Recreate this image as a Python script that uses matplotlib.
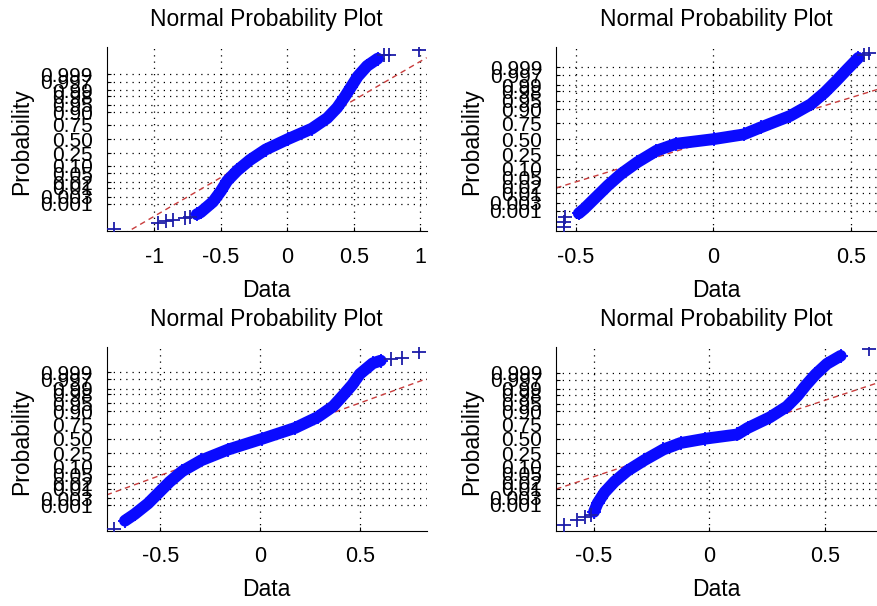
import numpy as np
import matplotlib.pyplot as plt
from matplotlib.ticker import MultipleLocator, FuncFormatter
from statistics import NormalDist

plt.rcParams['font.family'] = ['Liberation Sans', 'DejaVu Sans']
plt.rcParams['font.size'] = 15.5

# probability axis ticks (normal quantile scale)
prob_ticks = [0.001, 0.003, 0.01, 0.02, 0.05, 0.10, 0.25, 0.50,
              0.75, 0.90, 0.95, 0.98, 0.99, 0.997, 0.999]
prob_labels = ['0.001', '0.003', '0.01', '0.02', '0.05', '0.10', '0.25', '0.50',
               '0.75', '0.90', '0.95', '0.98', '0.99', '0.997', '0.999']

# panel 1 : sorted data vs normal quantile (dense part + sparse tail points)
p1_z = [-3.6, -3.5, -3.0, -2.5, -2.0, -1.5, -1.0, -0.5, 0.0, 0.5, 1.0, 1.5, 2.0, 2.5, 3.0, 3.5, 3.85]
p1_x = [-0.68, -0.65, -0.558, -0.50, -0.451, -0.375, -0.28, -0.162, 0.005, 0.185, 0.30, 0.375, 0.43, 0.48, 0.53, 0.60, 0.68]
p1_tail_z = [-4.30, -4.02, -3.92, -3.86, -3.78, -3.72, 4.0, 4.03, 4.27]
p1_tail_x = [-1.30, -0.97, -0.91, -0.86, -0.77, -0.73, 0.73, 0.765, 0.99]
p1_q = [-0.185, 0.179]   # 1st / 3rd quartile (reference line)
p1_zlim = 4.42

# panel 2
p2_z = [-3.2, -3.0, -2.5, -2.0, -1.5, -1.0, -0.5, -0.2, 0.0, 0.2, 0.5, 1.0, 1.5, 2.0, 2.5, 3.0, 3.5]
p2_x = [-0.49, -0.47, -0.427, -0.384, -0.336, -0.277, -0.207, -0.135, 0.002, 0.11, 0.172, 0.28, 0.355, 0.405, 0.447, 0.487, 0.528]
p2_tail_z = [-3.77, -3.55, -3.35, 3.62, 3.72]
p2_tail_x = [-0.545, -0.543, -0.54, 0.547, 0.568]
p2_q = [-0.178, 0.194]
p2_zlim = 3.98

# panel 3
p3_z = [-3.8, -3.5, -3.0, -2.5, -2.0, -1.5, -1.0, -0.5, 0.0, 0.5, 1.0, 1.5, 2.0, 2.5, 3.0, 3.5, 3.62]
p3_x = [-0.678, -0.63, -0.562, -0.508, -0.454, -0.39, -0.295, -0.16, 0.011, 0.175, 0.288, 0.366, 0.415, 0.462, 0.50, 0.565, 0.605]
p3_tail_z = [-4.19, 3.69, 3.76, 4.04]
p3_tail_x = [-0.732, 0.655, 0.713, 0.797]
p3_q = [-0.195, 0.207]
p3_zlim = 4.27

# panel 4
p4_z = [-3.41, -3.0, -2.5, -2.0, -1.5, -1.0, -0.5, -0.2, 0.0, 0.2, 0.5, 1.0, 1.5, 2.0, 2.5, 3.0, 3.5, 3.87]
p4_x = [-0.499, -0.483, -0.453, -0.41, -0.355, -0.281, -0.199, -0.125, -0.02, 0.12, 0.165, 0.261, 0.334, 0.38, 0.417, 0.458, 0.508, 0.567]
p4_tail_z = [-4.04, -3.77, -3.65, -3.57, 4.18]
p4_tail_x = [-0.63, -0.572, -0.536, -0.514, 0.691]
p4_q = [-0.193, 0.185]
p4_zlim = 4.30


def normplot(ax, z, x, tz, tx, q, zlim):
    xmin = min(min(x), min(tx))
    xmax = max(max(x), max(tx))
    pad = 0.025 * (xmax - xmin)
    xl = (xmin - pad, xmax + pad)

    # reference line through the quartiles, extended over the axis
    zq = NormalDist().inv_cdf(0.75)
    slope = 2 * zq / (q[1] - q[0])
    mid = (q[0] + q[1]) / 2
    rx = np.array(xl)
    ax.plot(rx, slope * (rx - mid), color='#c83c3c', lw=1, ls=(0, (4, 3)), zorder=2)

    ax.plot(x, z, color='#0a0aff', lw=8.5, solid_capstyle='round', zorder=3)
    ax.plot(x, z, ls='none', marker='+', ms=10, mew=1.3, color='#0a0aff', zorder=3)
    ax.plot(tx, tz, ls='none', marker='+', ms=10, mew=1.3, color='#1c1ca8', zorder=4)

    ax.set_xlim(xl)
    ax.set_ylim(-zlim, zlim)
    ax.set_yticks([NormalDist().inv_cdf(p) for p in prob_ticks])
    ax.set_yticklabels(prob_labels, fontsize=15)
    ax.xaxis.set_major_locator(MultipleLocator(0.5))
    ax.xaxis.set_major_formatter(FuncFormatter(lambda v, pos: '%g' % round(v, 2)))
    ax.grid(True, color='black', ls=(0, (1, 4)), lw=0.9)
    ax.spines['top'].set_visible(False)
    ax.spines['right'].set_visible(False)
    ax.tick_params(direction='in', length=3, width=0.8)
    ax.tick_params(axis='x', pad=11)
    ax.tick_params(axis='y', pad=10)

    ax.text(0.5, 1.148, 'Normal Probability Plot', transform=ax.transAxes,
            ha='center', va='center', fontsize=16.5)
    ax.set_xlabel('Data', va='center', fontsize=16.5)
    ax.xaxis.set_label_coords(0.5, -0.318)
    ax.set_ylabel('Probability', va='center', fontsize=16.5)
    ax.yaxis.set_label_coords(-0.264, 0.484)


fig = plt.figure(figsize=(8.77, 6.06), dpi=100)
ax1 = fig.add_axes([0.1215, 0.618, 0.365, 0.305])
ax2 = fig.add_axes([0.634, 0.618, 0.366, 0.305])
ax3 = fig.add_axes([0.1215, 0.124, 0.365, 0.304])
ax4 = fig.add_axes([0.634, 0.124, 0.366, 0.304])

normplot(ax1, p1_z, p1_x, p1_tail_z, p1_tail_x, p1_q, p1_zlim)
normplot(ax2, p2_z, p2_x, p2_tail_z, p2_tail_x, p2_q, p2_zlim)
normplot(ax3, p3_z, p3_x, p3_tail_z, p3_tail_x, p3_q, p3_zlim)
normplot(ax4, p4_z, p4_x, p4_tail_z, p4_tail_x, p4_q, p4_zlim)

fig.savefig('out.png', dpi=100)
